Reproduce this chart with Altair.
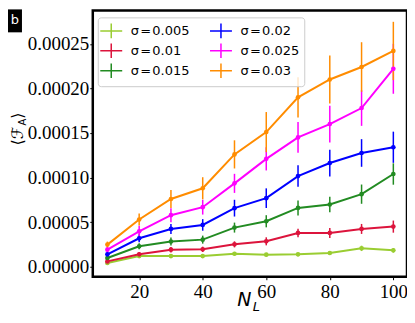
import altair as alt
import pandas as pd

N_L = [10, 20, 30, 40, 50, 60, 70, 80, 90, 100]

sigmas = ["0.005", "0.01", "0.015", "0.02", "0.025", "0.03"]
colors = ["#9ACD32", "#DC143C", "#228B22", "#0000FF", "#FF00FF", "#FF8C00"]

# mean values (units of 1e-6)
m_005 = [4.2, 12.0, 12.0, 12.0, 14.6, 13.5, 13.9, 15.4, 20.6, 18.4]
m_010 = [6.0, 13.9, 19.1, 19.5, 25.1, 28.5, 37.9, 37.9, 42.4, 45.0]
m_015 = [9.8, 22.9, 28.2, 30.4, 43.9, 51.0, 66.0, 69.8, 81.4, 104.0]
m_020 = [13.9, 31.9, 42.4, 46.9, 65.7, 76.9, 101.7, 116.3, 127.6, 134.0]
m_025 = [19.1, 39.7, 57.8, 66.8, 93.5, 121.0, 145.0, 160.0, 178.0, 222.0]
m_030 = [24.8, 53.0, 76.0, 88.0, 126.0, 151.0, 190.0, 210.0, 224.0, 242.0]

# error bar half-lengths (units of 1e-6)
e_005 = [1.5, 1.5, 1.5, 1.5, 2.0, 2.0, 2.0, 2.0, 3.0, 2.5]
e_010 = [2.0, 2.5, 3.0, 3.0, 3.4, 4.5, 4.7, 5.6, 5.6, 6.8]
e_015 = [2.3, 3.4, 4.5, 4.5, 5.6, 6.8, 8.4, 8.8, 10.8, 12.0]
e_020 = [2.5, 4.5, 5.6, 6.5, 9.4, 11.0, 12.0, 15.0, 15.5, 17.5]
e_025 = [3.4, 6.2, 7.9, 8.3, 10.7, 13.0, 17.2, 20.6, 20.0, 28.0]
e_030 = [3.4, 6.8, 10.0, 12.4, 15.8, 22.5, 22.5, 27.0, 27.8, 32.7]

means = [m_005, m_010, m_015, m_020, m_025, m_030]
errs = [e_005, e_010, e_015, e_020, e_025, e_030]

SP = "\u200a"
labels = [f"σ{SP}={SP}{s}" for s in sigmas]

rows = []
for lab, mm, ee in zip(labels, means, errs):
    for n, m, e in zip(N_L, mm, ee):
        rows.append({"N": n, "F": m * 1e-6, "lo": (m - e) * 1e-6,
                     "hi": (m + e) * 1e-6, "s": lab})
df = pd.DataFrame(rows)

xs = alt.Scale(domain=[5.4, 104.3], nice=False, zero=False)
ys = alt.Scale(domain=[-1.12e-5, 2.875e-4], nice=False, zero=False)

sym = "M-1.5,0H1.5M0,-1V1"
legend = alt.Legend(
    title=None, orient="none", legendX=5, legendY=7, columns=2,
    symbolType=sym, symbolSize=215, symbolStrokeWidth=1.5,
    labelFont="DejaVu Sans", labelFontSize=13, labelColor="black",
    labelOffset=11, columnPadding=17, rowPadding=-1, padding=5,
    strokeColor="#cccccc", fillColor="rgba(255,255,255,0.8)", cornerRadius=3,
)

color = alt.Color("s:N", scale=alt.Scale(domain=labels, range=colors), legend=legend)

x_enc = alt.X("N:Q", scale=xs, axis=alt.Axis(values=[20, 40, 60, 80, 100], title=None,
                                              labelPadding=3, format="d"))
y_enc = alt.Y("F:Q", scale=ys, axis=alt.Axis(values=[0, 5e-5, 1e-4, 1.5e-4, 2e-4, 2.5e-4],
                                              format=".5f", title=None, labelPadding=1))

base = alt.Chart(df)
lines = base.mark_line(strokeWidth=2).encode(x=x_enc, y=y_enc, color=color)
bars = base.mark_rule(strokeWidth=1.5).encode(x="N:Q", y="lo:Q", y2="hi:Q", color=color)
pts = base.mark_circle(size=22, opacity=1).encode(x="N:Q", y="F:Q", color=color)

one = pd.DataFrame({"k": [0]})
ann = alt.Chart(one)
box = ann.mark_rect(color="black").encode(
    x=alt.value(-85), x2=alt.value(-71), y=alt.value(-1), y2=alt.value(22))
btxt = ann.mark_text(text="b", color="white", font="DejaVu Sans", fontSize=13,
                     align="center", baseline="middle").encode(
    x=alt.value(-78), y=alt.value(10))
yt1 = ann.mark_text(text="⟨ℱ", font="DejaVu Sans", fontSize=16, angle=270,
                    align="center", baseline="middle", color="black").encode(
    x=alt.value(-75), y=alt.value(126))
yt2 = ann.mark_text(text="A", font="DejaVu Sans", fontSize=10, angle=270,
                    align="center", baseline="middle", color="black").encode(
    x=alt.value(-69.5), y=alt.value(112))
yt3 = ann.mark_text(text="⟩", font="DejaVu Sans", fontSize=16, angle=270,
                    align="center", baseline="middle", color="black").encode(
    x=alt.value(-75), y=alt.value(105.5))
xt1 = ann.mark_text(text="N", font="DejaVu Sans", fontSize=19, fontStyle="italic",
                    align="center", baseline="middle", color="black").encode(
    x=alt.value(152), y=alt.value(290.5))
xt2 = ann.mark_text(text="L", font="DejaVu Sans", fontSize=13, fontStyle="italic",
                    align="center", baseline="middle", color="black").encode(
    x=alt.value(164), y=alt.value(297))

chart = alt.layer(lines, bars, pts, box, btxt, yt1, yt2, yt3, xt1, xt2).properties(
    width=315, height=267,
    autosize=alt.AutoSizeParams(type="none"),
    padding={"left": 85, "top": 2, "right": 0, "bottom": 48},
    background="white",
).configure_view(stroke="black", strokeWidth=2.5).configure_axis(
    domain=False, grid=False, labelFont="Liberation Serif", labelFontSize=19,
    labelColor="black", tickColor="black", tickSize=3, tickWidth=1,
)

chart.save("out.html", embed_options={"renderer": "svg", "actions": False})
